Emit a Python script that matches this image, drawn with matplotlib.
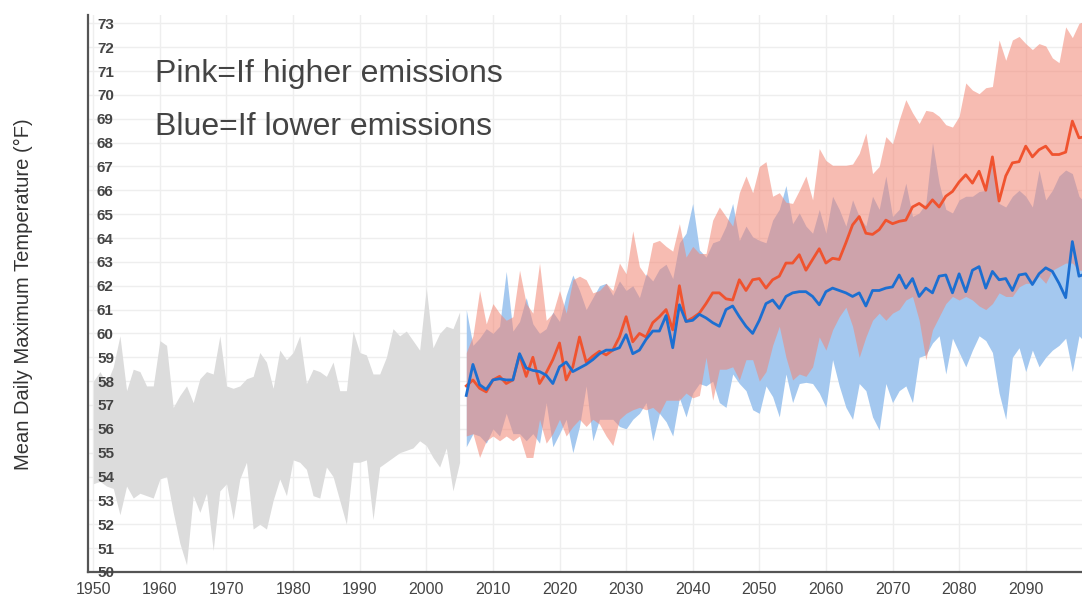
import numpy as np
import matplotlib
matplotlib.use('Agg')
import matplotlib.pyplot as plt

plt.rcParams['font.family'] = ['Liberation Sans', 'DejaVu Sans']

# observed range, 1950-2005
hist_years = list(range(1950, 2006))
hist_low = [53.7, 53.8, 53.6, 53.5, 52.4, 53.6, 53.1, 53.3, 53.2, 53.1,
            53.9, 54.0, 52.5, 51.2, 50.3, 53.2, 52.5, 53.3, 50.9, 53.4,
            53.7, 52.2, 53.9, 54.6, 51.8, 52.0, 51.8, 53.0, 53.9, 53.2,
            54.7, 54.6, 54.3, 53.2, 53.1, 54.4, 54.0, 53.0, 52.0, 54.6,
            54.6, 54.7, 52.2, 54.4, 54.6, 54.8, 55.0, 55.1, 55.2, 55.5,
            55.3, 54.8, 54.4, 55.2, 53.4, 54.6]
hist_high = [58.0, 58.4, 57.9, 58.6, 59.9, 57.6, 58.5, 58.4, 57.8, 57.8,
             59.7, 59.5, 56.9, 57.4, 57.8, 57.1, 58.1, 58.4, 58.3, 59.9,
             57.8, 57.7, 57.8, 58.1, 58.2, 59.2, 58.8, 57.7, 59.3, 58.9,
             59.2, 59.9, 57.9, 58.5, 58.4, 58.2, 58.8, 57.6, 57.6, 60.1,
             59.2, 59.1, 58.3, 58.3, 59.0, 60.2, 59.9, 60.1, 59.7, 59.3,
             61.9, 59.4, 60.0, 60.3, 60.2, 60.9]

# projections, 2006-2099
proj_years = list(range(2006, 2100))
high_mean = [57.8, 58.05, 57.7, 57.55, 58.05, 58.2, 57.9, 58.05, 59.1, 58.2,
             59.0, 57.9, 58.35, 58.9, 59.6, 58.05, 58.6, 59.85, 58.8, 59.05,
             59.25, 59.1, 59.3, 59.85, 60.7, 59.65, 60.0, 59.85, 60.45, 60.7,
             61.0, 60.15, 62.0, 60.5, 60.65, 60.85, 61.25, 61.7, 61.7, 61.45,
             61.4, 62.25, 61.8, 62.25, 62.3, 61.9, 62.25, 62.4, 62.95, 62.95,
             63.3, 62.65, 63.1, 63.55, 62.95, 63.15, 63.1, 63.8, 64.55, 64.9,
             64.2, 64.15, 64.35, 64.75, 64.6, 64.7, 64.75, 65.3, 65.45, 65.25,
             65.6, 65.3, 65.75, 65.95, 66.35, 66.65, 66.3, 66.8, 66.0, 67.4,
             65.55, 66.6, 67.15, 67.2, 67.85, 67.4, 67.7, 67.85, 67.5, 67.5,
             67.6, 68.9, 68.2, 68.25]
high_high = [59.2, 59.9, 61.8, 60.4, 61.25, 60.85, 60.55, 60.7, 62.65, 61.25,
             60.85, 62.95, 60.55, 60.85, 61.8, 60.85, 62.25, 62.4, 62.25, 61.7,
             61.8, 62.1, 61.8, 62.95, 62.5, 64.3, 62.8, 62.4, 63.8, 63.9,
             63.65, 63.45, 64.6, 63.2, 63.65, 63.35, 63.35, 64.75, 65.3, 64.9,
             64.5, 65.9, 66.6, 65.9, 67.0, 67.2, 65.75, 65.9, 65.5, 65.45,
             66.0, 66.6, 65.6, 67.75, 67.25, 67.05, 67.05, 67.05, 67.1, 67.55,
             68.4, 66.7, 67.0, 68.25, 67.95, 68.95, 69.8, 69.25, 68.8, 69.35,
             69.3, 69.1, 68.75, 68.65, 69.1, 70.5, 70.2, 70.05, 70.3, 70.35,
             72.3, 71.45, 72.3, 72.45, 72.15, 71.9, 72.15, 72.05, 71.55, 71.35,
             72.85, 72.4, 73.0, 73.1]
high_low = [55.7, 55.8, 54.8, 55.5, 55.7, 55.5, 55.7, 55.5, 55.7, 54.8,
            54.8, 56.4, 55.4, 55.8, 56.4, 55.7, 56.1, 56.4, 56.1, 56.4,
            56.2, 55.7, 55.3, 56.4, 56.65, 56.8, 56.9, 56.8, 56.9, 56.65,
            57.2, 57.2, 57.2, 57.5, 57.3, 57.4, 59.0, 57.2, 58.5, 58.5,
            58.6, 58.05, 58.9, 58.9, 58.0, 58.4, 59.5, 60.3, 59.0, 58.05,
            58.3, 58.2, 58.6, 59.85, 59.3, 60.15, 60.7, 61.1, 60.3, 59.0,
            59.85, 60.55, 60.85, 60.55, 60.85, 61.0, 61.4, 61.55, 60.55, 58.9,
            60.15, 60.7, 61.25, 61.55, 61.4, 61.55, 61.4, 61.15, 61.0, 61.25,
            61.7, 61.55, 61.55, 61.95, 62.1, 62.1, 62.4, 62.1, 62.65, 62.8,
            62.95, 62.95, 62.65, 62.65]
low_mean = [57.4, 58.7, 57.85, 57.65, 58.05, 58.1, 58.05, 58.05, 59.15, 58.55,
            58.45, 58.4, 58.25, 57.9, 58.6, 58.8, 58.4, 58.55, 58.7, 58.9,
            59.15, 59.3, 59.3, 59.4, 59.95, 59.15, 59.3, 59.75, 60.1, 60.1,
            60.75, 59.4, 61.2, 60.5, 60.55, 60.8, 60.65, 60.45, 60.3, 61.0,
            61.15, 60.7, 60.3, 60.0, 60.55, 61.25, 61.4, 61.05, 61.55, 61.7,
            61.75, 61.75, 61.55, 61.2, 61.75, 61.9, 61.8, 61.7, 61.55, 61.7,
            61.15, 61.8, 61.8, 61.9, 61.95, 62.45, 61.9, 62.3, 61.55, 61.9,
            61.7, 62.4, 62.45, 61.7, 62.5, 61.75, 62.65, 62.8, 61.9, 62.6,
            62.25, 62.3, 61.8, 62.45, 62.5, 62.05, 62.5, 62.75, 62.6, 62.1,
            61.5, 63.85, 62.4, 62.5]
low_high = [61.0, 59.5, 59.8, 60.2, 60.0, 60.3, 62.6, 60.1, 60.5, 61.5,
            60.4, 60.0, 60.2, 60.9, 60.5, 61.6, 62.45, 61.8, 61.0, 61.5,
            62.0, 62.1, 61.6, 62.2, 61.8, 62.0, 61.5, 62.5, 62.2, 62.7,
            62.9, 62.3, 63.8, 64.2, 65.45, 63.5, 63.2, 63.8, 63.9, 64.5,
            65.45, 63.9, 64.5, 64.05, 63.9, 63.8, 64.75, 65.2, 66.2, 64.6,
            65.05, 64.5, 64.2, 65.2, 64.2, 65.75, 65.2, 64.5, 65.6, 64.9,
            64.5, 65.75, 65.2, 66.6, 64.9, 65.2, 66.3, 64.9, 65.05, 65.45,
            68.0, 66.3, 65.2, 65.05, 65.6, 65.75, 65.75, 65.95, 66.0, 67.4,
            65.45, 65.3, 65.75, 66.0, 65.75, 65.3, 66.85, 65.6, 66.0, 66.6,
            66.85, 66.7, 65.75, 65.45]
low_low = [55.25, 55.8, 55.7, 55.4, 56.0, 55.7, 56.65, 55.8, 55.8, 55.5,
           55.8, 55.4, 57.1, 55.25, 55.8, 56.4, 55.0, 56.1, 57.8, 55.5,
           56.4, 56.4, 56.4, 56.1, 56.0, 56.4, 56.65, 57.1, 55.5, 56.65,
           56.3, 55.7, 57.3, 56.5, 57.5, 57.9, 57.8, 58.0, 57.1, 56.9,
           58.3, 57.9, 57.6, 56.8, 56.65, 57.8, 57.35, 56.5, 58.3, 57.1,
           57.9, 57.95, 57.9, 57.5, 56.9, 58.9, 57.8, 56.9, 56.4, 57.9,
           57.6, 56.5, 55.95, 57.9, 57.1, 57.6, 57.8, 57.1, 59.0, 59.1,
           59.6, 59.9, 58.3, 59.8, 59.2, 58.6, 59.3, 59.9, 59.7, 59.2,
           57.5, 56.4, 59.0, 59.4, 58.4, 59.3, 58.6, 59.0, 59.3, 59.5,
           59.8, 58.4, 59.9, 59.6]

fig = plt.figure(figsize=(10.82, 5.96), dpi=100)
pos = [0.0813, 0.0403, 0.9187, 0.9346]
ax = fig.add_axes(pos)

ax.fill_between(hist_years, hist_low, hist_high, color='#dcdcdc', lw=0)
ax.fill_between(proj_years, low_low, low_high, color='#a4c8ef', lw=0)
ax.fill_between(proj_years, high_low, high_high, color='#f28573', alpha=0.55, lw=0)
ax.plot(proj_years, high_mean, color='#f0532f', lw=2)
ax.plot(proj_years, low_mean, color='#1c6fd1', lw=2)

ax.set_xlim(1949.2, 2098.45)
ax.set_ylim(50, 73.35)
ax.set_xticks(range(1950, 2100, 10))
ax.set_yticks(range(50, 74))
ax.grid(True, color='#eeeeee', lw=1)
ax.set_axisbelow(True)
ax.tick_params(axis='x', length=0, pad=7, labelsize=11.5, labelcolor='#444444')
ax.tick_params(axis='y', length=0, labelleft=False)

for s in ['top', 'right']:
    ax.spines[s].set_visible(False)
for s in ['left', 'bottom']:
    ax.spines[s].set_color('#555555')
    ax.spines[s].set_linewidth(1.6)

# overlay axes so the y labels sit on top of the shaded bands
lab_ax = fig.add_axes(pos, sharey=ax)
lab_ax.patch.set_visible(False)
for s in lab_ax.spines.values():
    s.set_visible(False)
lab_ax.xaxis.set_visible(False)
lab_ax.tick_params(axis='y', length=0, pad=-6.5, labelsize=11,
                   labelcolor='#444444')
for lab in lab_ax.get_yticklabels():
    lab.set_horizontalalignment('left')
    lab.set_fontweight('bold')

fig.text(0.0217, 0.507, 'Mean Daily Maximum Temperature (°F)', rotation=90,
         ha='center', va='center', fontsize=14.5, color='#333333')
fig.text(0.1433, 0.8624, 'Pink=If higher emissions', fontsize=23,
         color='#444444', va='baseline')
fig.text(0.1433, 0.7735, 'Blue=If lower emissions', fontsize=23,
         color='#444444', va='baseline')

fig.savefig('out.png', dpi=100)
